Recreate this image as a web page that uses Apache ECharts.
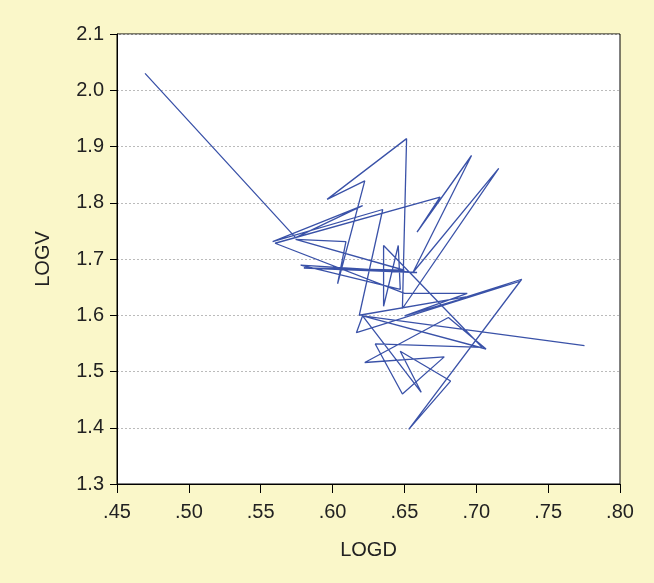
<!DOCTYPE html>
<html>
<head>
<meta charset="utf-8">
<script src="https://cdn.jsdelivr.net/npm/echarts@6/dist/echarts.min.js"></script>
<style>
html,body{margin:0;padding:0;background:#FAF7C9;}
#c{width:654px;height:583px;}
</style>
</head>
<body>
<div id="c"></div>
<script>
// LOGD (x) and LOGV (y) path, in order
var logd = [.4695,.5743,.6209,.5583,.6349,.6186,.6937,.7316,.6530,.6821,.6471,.6617,.6209,.7068,.6806,.6224,.6777,.6486,.6297,.7040,.6355,.6355,.6457,.6471,.5778,.6588,.5800,.6500,.5743,.6093,.6035,.6224,.5962,.6515,.6486,.7156,.6559,.6967,.6588,.6748,.5600,.6501,.6937,.6501,.7300,.6166,.6209,.7753];
var logv = [2.030,1.738,1.795,1.731,1.788,1.600,1.633,1.664,1.397,1.483,1.536,1.463,1.599,1.540,1.596,1.516,1.526,1.460,1.549,1.543,1.724,1.616,1.724,1.646,1.689,1.676,1.684,1.680,1.735,1.731,1.656,1.839,1.806,1.914,1.612,1.861,1.676,1.884,1.748,1.810,1.728,1.639,1.639,1.599,1.660,1.569,1.599,1.546];
var xTicks = {min: 0.45, max: 0.80, step: 0.05};
var yTicks = {min: 1.3, max: 2.1, step: 0.1};

var pts = logd.map(function(v, i){ return [v, logv[i]]; });
var chart = echarts.init(document.getElementById('c'));
var font = 'Liberation Sans, Arial, sans-serif';
chart.setOption({
  backgroundColor: '#FAF7C9',
  animation: false,
  grid: {left: 117, right: 34, top: 34, bottom: 99, show: true, backgroundColor: '#ffffff', borderColor: '#000', borderWidth: 1},
  xAxis: {
    type: 'value', min: xTicks.min, max: xTicks.max, interval: xTicks.step,
    name: 'LOGD', nameLocation: 'middle', nameGap: 56,
    nameTextStyle: {fontFamily: font, fontSize: 20, color: '#222'},
    axisLine: {show: true, onZero: false, lineStyle: {color: '#000', width: 1}},
    axisTick: {show: true, length: 9, lineStyle: {color: '#000'}},
    axisLabel: {margin: 18, fontFamily: font, fontSize: 20, color: '#222',
      formatter: function(v){ return v.toFixed(2).replace(/^0/, ''); }},
    splitLine: {show: false}
  },
  yAxis: {
    type: 'value', min: yTicks.min, max: yTicks.max, interval: yTicks.step,
    name: 'LOGV', nameLocation: 'middle', nameGap: 64,
    nameTextStyle: {fontFamily: font, fontSize: 20, color: '#222'},
    axisLine: {show: true, onZero: false, lineStyle: {color: '#000', width: 1}},
    axisTick: {show: true, length: 7, lineStyle: {color: '#000'}},
    axisLabel: {margin: 13, fontFamily: font, fontSize: 20, color: '#222',
      formatter: function(v){ return v.toFixed(1); }},
    splitLine: {show: true, lineStyle: {color: '#BBBBBB', type: [2, 2], width: 1}}
  },
  series: [{
    type: 'line', data: pts, showSymbol: false, symbol: 'none',
    lineStyle: {color: '#3A52A8', width: 1.3}
  }]
});
</script>
</body>
</html>
